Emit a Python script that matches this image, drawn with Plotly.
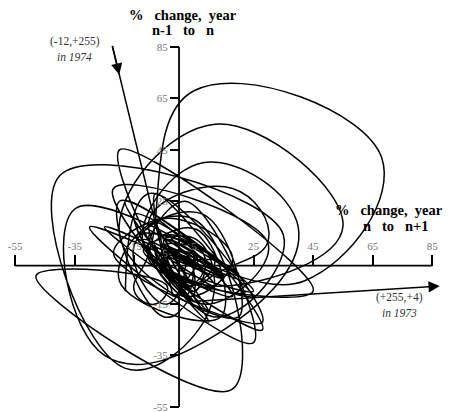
import plotly.graph_objects as go

# Annual % change series (estimated from the phase plot)
years = list(range(1880, 1993))
pct_change = [
    8, -12, 3, 18, -6, -20, 14, 6, -10, 25,
    -18, 10, -4, 15, -25, 28, -8, 2, 12, -14,
    5, -8, 12, -3, 20, -15, 8, 30, -22, 10,
    -5, 15, -30, 25, 2, -10, 45, -20, 12, 35,
    -40, -18, 10, 6, -12, 18, -8, 4, -6, 22,
    -35, -25, 15, 40, 8, -12, 25, -20, -5, 10,
    30, 18, -10, 5, 2, -8, 15, 55, 12, -20,
    20, 8, -15, -5, 3, 6, -4, 10, -12, 2,
    4, -2, 8, -6, 1, 3, 12, -10, 5, 8,
    -5, 15, -14, 4, 255, -12, -2, 8, -6, 42,
    68, 5, -10, -15, -8, -4, -48, 18, 5, -22,
    28, -10, -18,
]
tick_vals = [-55, -35, -15, 5, 25, 45, 65, 85]
spike_year = 1974
label_in = ["(-12,+255)", "<i>in 1974</i>"]
label_out = ["(+255,+4)", "<i>in 1973</i>"]
title_y = ["%\u00a0\u00a0\u00a0change,\u00a0\u00a0year", "n-1\u00a0\u00a0\u00a0to\u00a0\u00a0\u00a0n"]
title_x = ["%\u00a0\u00a0\u00a0change,\u00a0\u00a0year", "n\u00a0\u00a0\u00a0to\u00a0\u00a0\u00a0n+1"]

X_RANGE = [-57.4, 95.3]
Y_RANGE = [-60.1, 100.2]
AX_MIN, AX_MAX = -55, 85
SERIF = "Liberation Serif, Times New Roman, serif"

# phase points: x = change year n to n+1, y = change year n-1 to n
px = pct_change[1:]
py = pct_change[:-1]
i_spike = years.index(spike_year)          # point (g75, g74) -> index of 1974
i_out = i_spike - 1                         # (255, 4) in 1973

seg1 = slice(0, i_out)                      # up to 1972
seg2 = slice(i_spike + 1, len(px))          # from 1975 on

fig = go.Figure()
for s in (seg1, seg2):
    fig.add_trace(go.Scatter(
        x=px[s], y=py[s], mode="lines",
        line=dict(color="black", width=1.5, shape="spline", smoothing=1.3),
        hoverinfo="skip", showlegend=False, cliponaxis=False))

# axes lines through origin
fig.add_shape(type="line", x0=AX_MIN, x1=AX_MAX, y0=0, y1=0,
              line=dict(color="black", width=1.8))
fig.add_shape(type="line", x0=0, x1=0, y0=AX_MIN, y1=AX_MAX,
              line=dict(color="black", width=1.8))

# off-scale arrow to the right: 1972 point toward (255, 4)
x72, y72 = px[i_out - 1], py[i_out - 1]
x73, y73 = px[i_out], py[i_out]
clip_x = 87.5
t = (clip_x - x72) / (x73 - x72)
head_r = (clip_x, y72 + t * (y73 - y72))
fig.add_annotation(x=head_r[0], y=head_r[1], ax=x72, ay=y72, axref="x", ayref="y",
                   xref="x", yref="y", text="", showarrow=True, arrowhead=2,
                   arrowsize=1.5, arrowwidth=1.5, arrowcolor="black")
lab_font = dict(family=SERIF, size=11.5, color="#333")
fig.add_annotation(x=74, y=-12.3, xref="x", yref="y", text=label_out[0], showarrow=False,
                   xanchor="center", yanchor="middle", font=lab_font)
fig.add_annotation(x=74, y=-18.3, xref="x", yref="y", text=label_out[1], showarrow=False,
                   xanchor="center", yanchor="middle", font=lab_font)

# off-scale arrow from upper left: (-12, 255) toward 1975 point
x75, y75 = px[i_spike + 1], py[i_spike + 1]
tail = (-22.5, 86)
fig.add_annotation(x=x75, y=y75, ax=tail[0], ay=tail[1], axref="x", ayref="y",
                   xref="x", yref="y", text="", showarrow=True, arrowhead=0,
                   arrowwidth=1.5, arrowcolor="black")
f = 0.12
fig.add_annotation(x=tail[0] + f * (x75 - tail[0]), y=tail[1] + f * (y75 - tail[1]),
                   ax=tail[0], ay=tail[1], axref="x", ayref="y",
                   xref="x", yref="y", text="", showarrow=True, arrowhead=2,
                   arrowsize=1.5, arrowwidth=1.5, arrowcolor="black")
fig.add_annotation(x=-35, y=87, xref="x", yref="y", text=label_in[0], showarrow=False,
                   xanchor="center", yanchor="middle", font=lab_font)
fig.add_annotation(x=-35, y=81, xref="x", yref="y", text=label_in[1], showarrow=False,
                   xanchor="center", yanchor="middle", font=lab_font)

# axis titles
tfont = dict(family=SERIF, size=14.5, color="black")
fig.add_annotation(x=1.3, y=97.5, xref="x", yref="y", text="<b>" + title_y[0] + "</b>",
                   showarrow=False, xanchor="center", yanchor="middle", font=tfont)
fig.add_annotation(x=1.3, y=91.6, xref="x", yref="y", text="<b>" + title_y[1] + "</b>",
                   showarrow=False, xanchor="center", yanchor="middle", font=tfont)
fig.add_annotation(x=51.7, y=21.6, xref="x", yref="y", text="<b>" + title_x[0] + "</b>",
                   showarrow=False, xanchor="left", yanchor="middle", font=tfont)
fig.add_annotation(x=72.5, y=15.4, xref="x", yref="y", text="<b>" + title_x[1] + "</b>",
                   showarrow=False, xanchor="center", yanchor="middle", font=tfont)

x_pos = (0 - Y_RANGE[0]) / (Y_RANGE[1] - Y_RANGE[0])
y_pos = (0 - X_RANGE[0]) / (X_RANGE[1] - X_RANGE[0])
tickfont = dict(family=SERIF, size=11, color="#777")
fig.update_layout(
    width=455, height=412, margin=dict(l=0, r=0, t=0, b=0),
    paper_bgcolor="white", plot_bgcolor="white", showlegend=False,
    xaxis=dict(range=X_RANGE, anchor="free", position=x_pos, side="top",
               tickvals=tick_vals, ticktext=[str(v) for v in tick_vals],
               ticks="outside", ticklen=11, tickwidth=1.5, tickcolor="black",
               ticklabeloverflow="allow",
               showline=False, showgrid=False, zeroline=False, tickfont=tickfont),
    yaxis=dict(range=Y_RANGE, anchor="free", position=y_pos, side="left",
               tickvals=tick_vals, ticktext=[str(v) for v in tick_vals],
               ticks="outside", ticklen=9, tickwidth=1.5, tickcolor="black",
               ticklabeloverflow="allow",
               showline=False, showgrid=False, zeroline=False, tickfont=tickfont),
)
fig.write_html("out.html")
